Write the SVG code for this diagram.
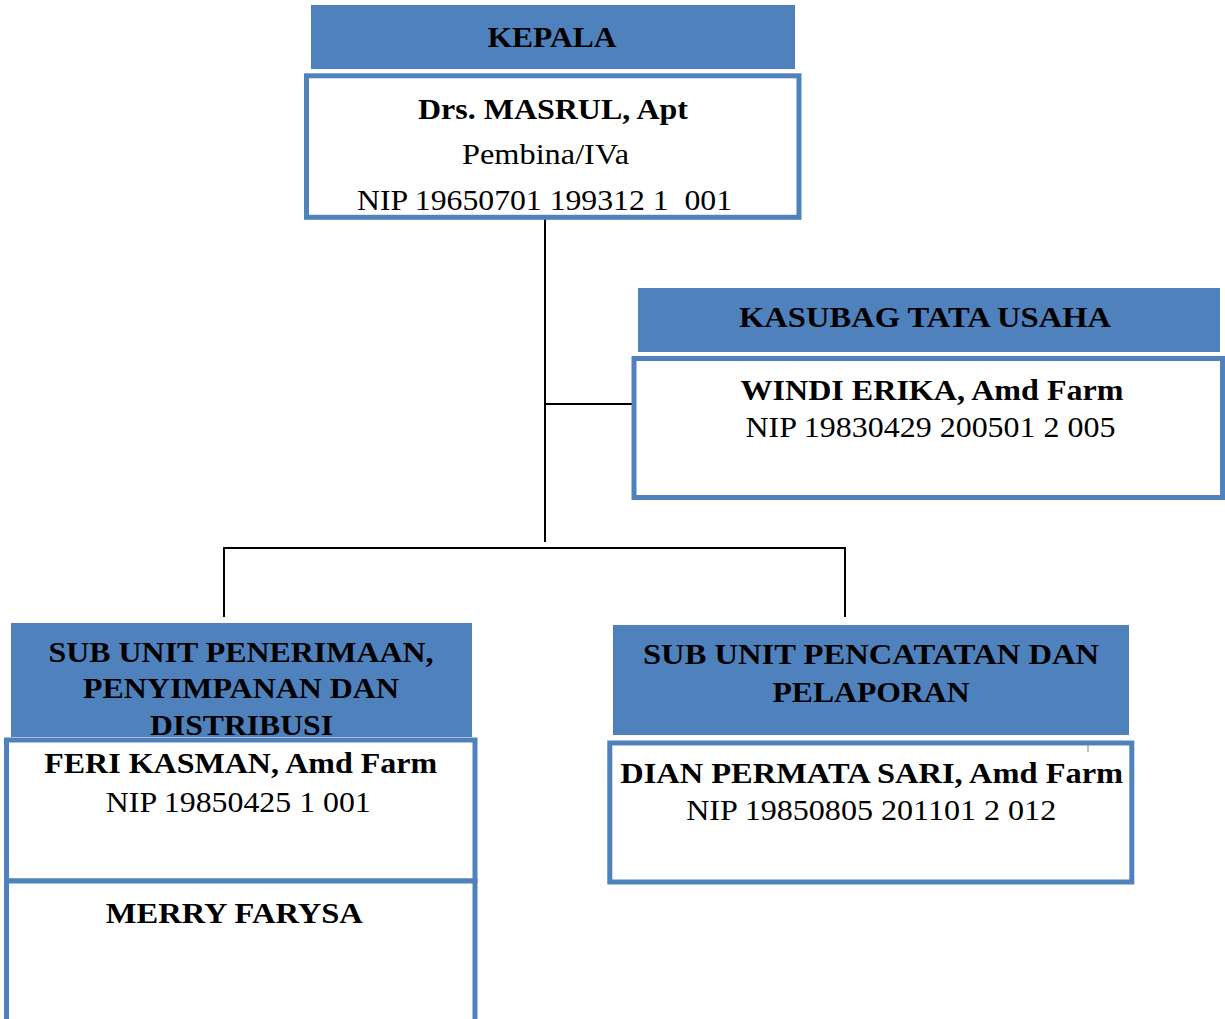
<svg xmlns="http://www.w3.org/2000/svg" width="1225" height="1019" viewBox="0 0 1225 1019">
<style>
.hdr{fill:#4F81BD;}
.box{fill:#FFFFFF;stroke:#4F81BD;stroke-width:5;}
text{font-family:'Liberation Serif','Times New Roman',Times,serif;font-size:30px;fill:#000;text-anchor:middle;}
.b{font-weight:bold;}
.con{stroke:#000;stroke-width:2;fill:none;}
</style>
<rect width="1225" height="1019" fill="#FFFFFF"/>
<g id="connectors">
<line class="con" x1="545" y1="218" x2="545" y2="542"/>
<line class="con" x1="545" y1="404" x2="633" y2="404"/>
<polyline class="con" points="224,617 224,548 845,548 845,617"/>
</g>
<g id="kepala">
<rect class="hdr" x="311" y="5" width="484" height="64"/>
<rect class="box" x="306.5" y="75.8" width="492.5" height="141.5"/>
<text class="b" x="552" y="47" textLength="129" lengthAdjust="spacingAndGlyphs">KEPALA</text>
<text class="b" x="553" y="119" textLength="270" lengthAdjust="spacingAndGlyphs">Drs. MASRUL, Apt</text>
<text x="545.5" y="164" textLength="167" lengthAdjust="spacingAndGlyphs">Pembina/IVa</text>
<text x="544.5" y="210" textLength="375" lengthAdjust="spacingAndGlyphs" style="white-space:pre">NIP 19650701 199312 1  001</text>
</g>
<g id="kasubag">
<rect class="hdr" x="638" y="288" width="582" height="64"/>
<rect class="box" x="634" y="358.5" width="588.5" height="139"/>
<text class="b" x="925" y="327" textLength="372" lengthAdjust="spacingAndGlyphs">KASUBAG TATA USAHA</text>
<text class="b" x="932" y="400" textLength="383" lengthAdjust="spacingAndGlyphs">WINDI ERIKA, Amd Farm</text>
<text x="930.5" y="437" textLength="370" lengthAdjust="spacingAndGlyphs">NIP 19830429 200501 2 005</text>
</g>
<g id="sub-penerimaan">
<rect class="hdr" x="11" y="623" width="461" height="114"/>
<text class="b" x="241" y="662" textLength="385" lengthAdjust="spacingAndGlyphs">SUB UNIT PENERIMAAN,</text>
<text class="b" x="241" y="698" textLength="316" lengthAdjust="spacingAndGlyphs">PENYIMPANAN DAN</text>
<text class="b" x="241.5" y="735" textLength="183" lengthAdjust="spacingAndGlyphs">DISTRIBUSI</text>
</g>
<g id="feri">
<rect class="box" x="6.5" y="740" width="468.5" height="141"/>
<text class="b" x="240.7" y="773" textLength="393" lengthAdjust="spacingAndGlyphs">FERI KASMAN, Amd Farm</text>
<text x="238.3" y="811.5" textLength="265" lengthAdjust="spacingAndGlyphs">NIP 19850425 1 001</text>
</g>
<g id="merry">
<rect class="box" x="6.5" y="881" width="468.5" height="160"/>
<text class="b" x="234.3" y="923" textLength="257" lengthAdjust="spacingAndGlyphs">MERRY FARYSA</text>
</g>
<g id="sub-pencatatan">
<rect class="hdr" x="613" y="625" width="516" height="110"/>
<text class="b" x="871" y="664" textLength="456" lengthAdjust="spacingAndGlyphs">SUB UNIT PENCATATAN DAN</text>
<text class="b" x="871" y="701.5" textLength="197" lengthAdjust="spacingAndGlyphs">PELAPORAN</text>
</g>
<g id="dian">
<rect class="box" x="609.8" y="743" width="522" height="139"/>
<line x1="1088" y1="745" x2="1088" y2="752" stroke="#AAAAAA" stroke-width="1.5"/>
<text class="b" x="871.7" y="783" textLength="503" lengthAdjust="spacingAndGlyphs">DIAN PERMATA SARI, Amd Farm</text>
<text x="871.2" y="820" textLength="370" lengthAdjust="spacingAndGlyphs">NIP 19850805 201101 2 012</text>
</g>
</svg>
